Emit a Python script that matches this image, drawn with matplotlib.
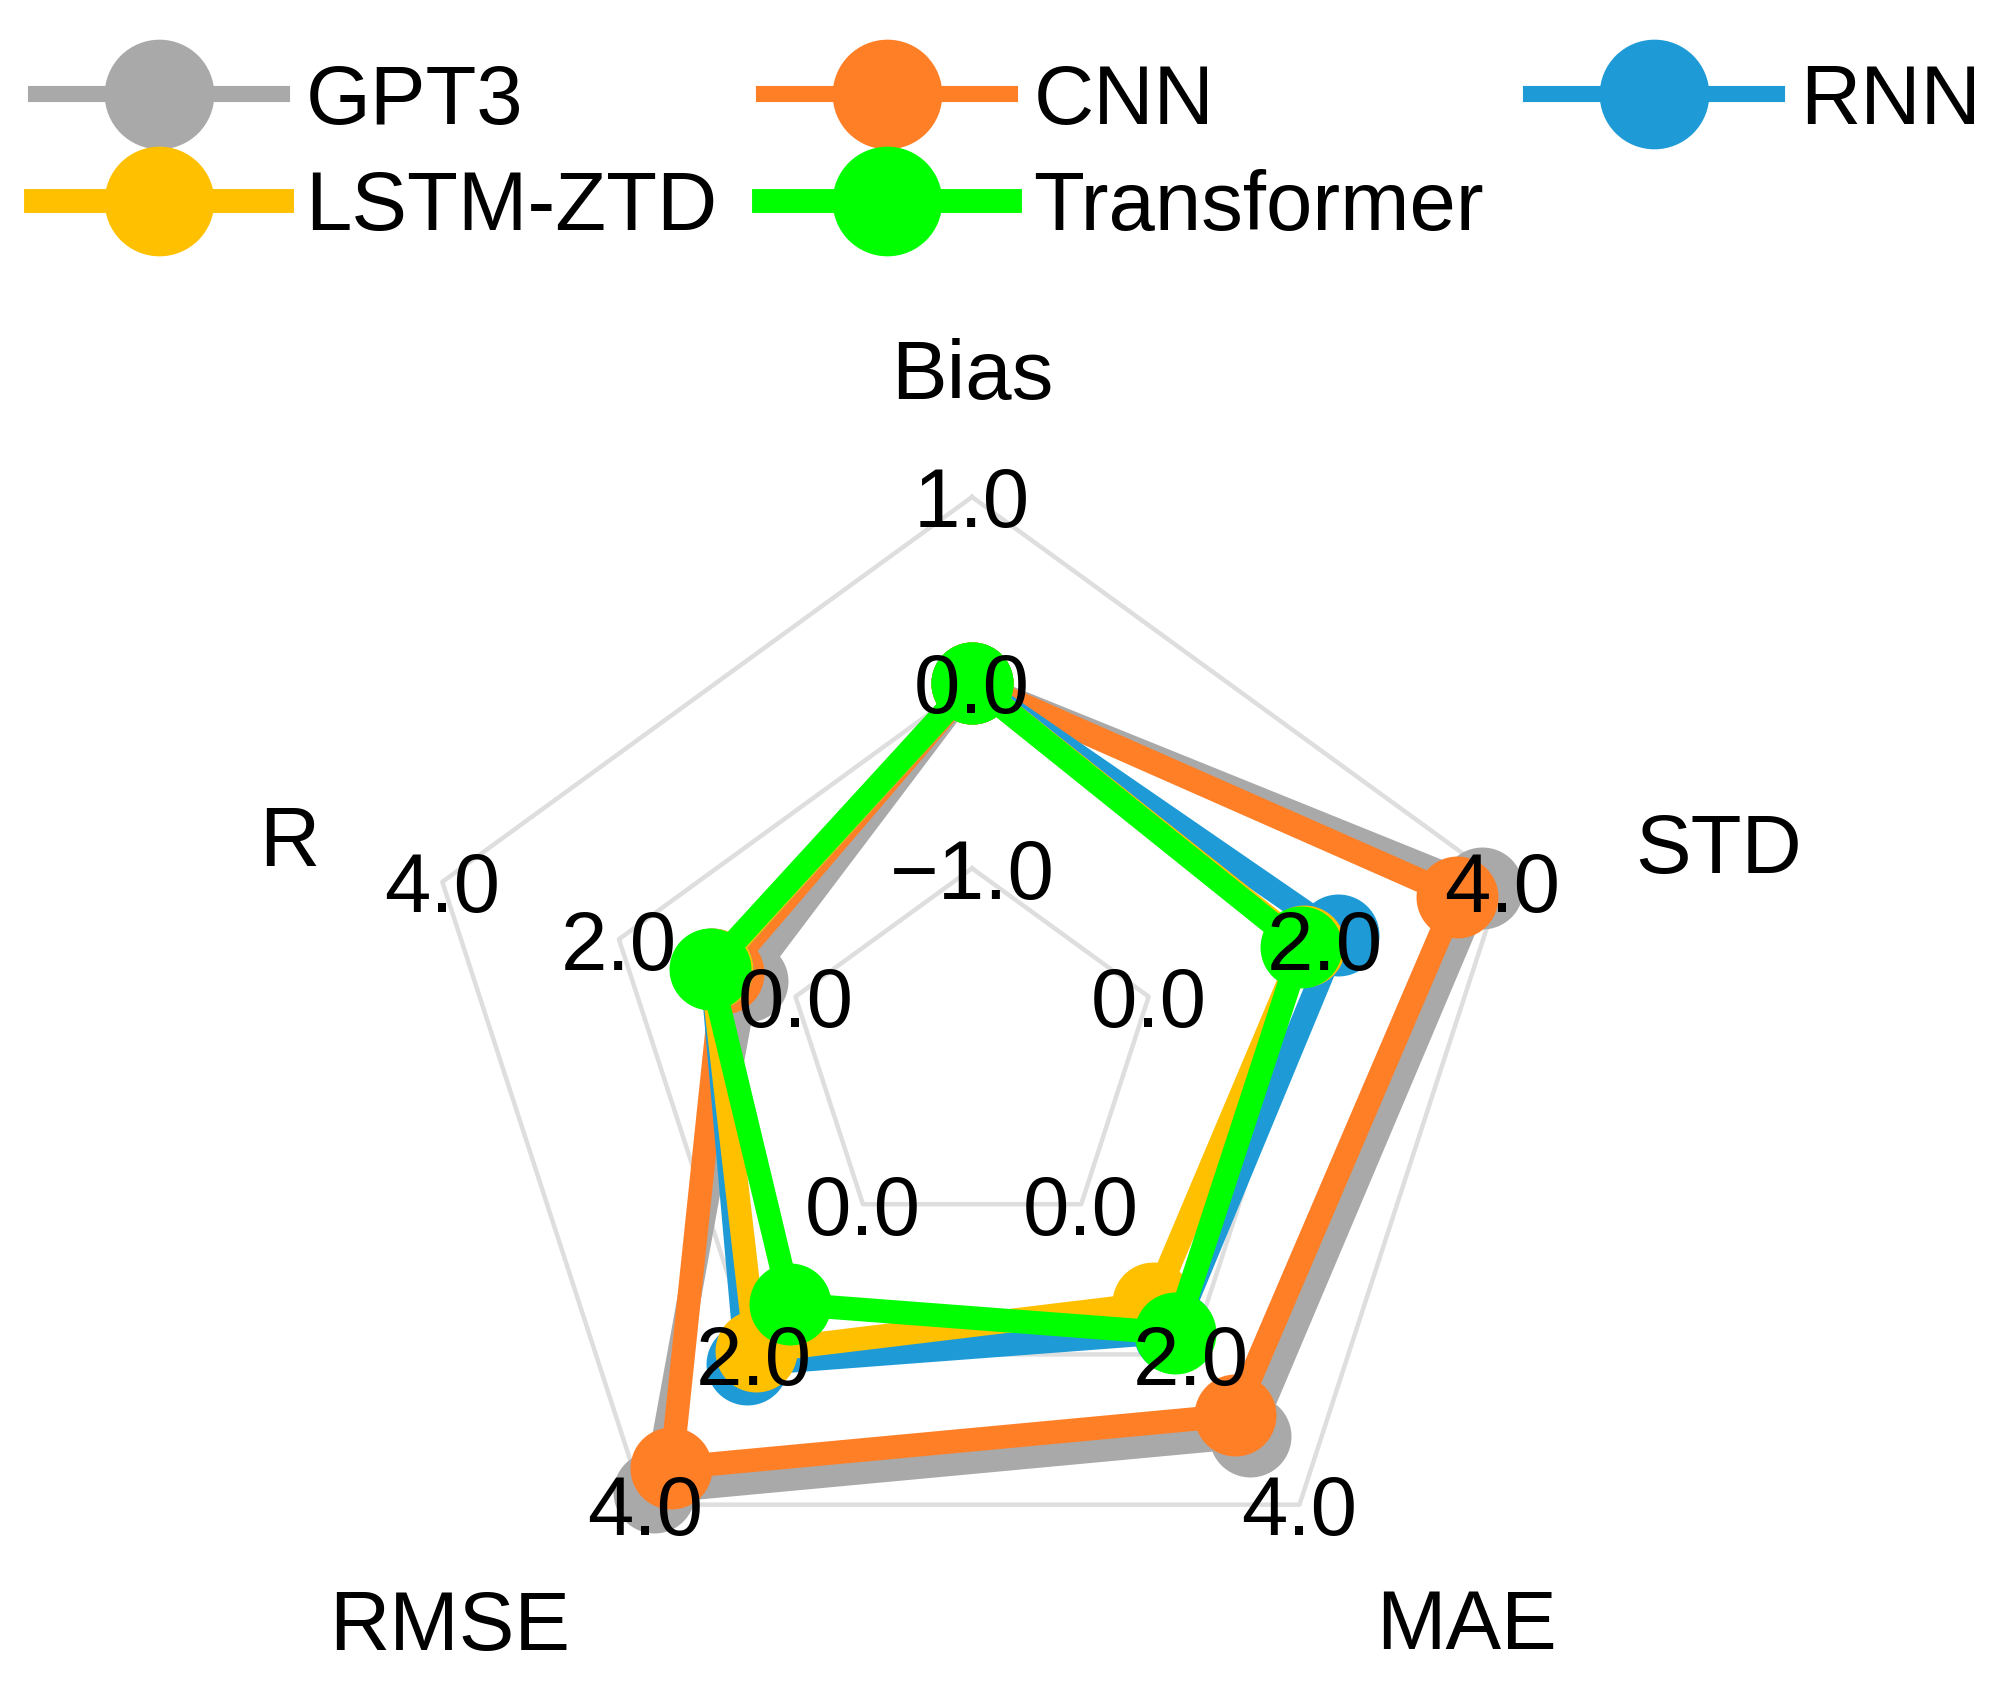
import numpy as np
import matplotlib
matplotlib.use("Agg")
import matplotlib.pyplot as plt

plt.rcParams['font.family'] = ['Liberation Sans', 'DejaVu Sans']

# axes of the radar, clockwise from the top
categories = ['Bias', 'STD', 'MAE', 'RMSE', 'R']
axis_lo = [-1.0, 0.0, 0.0, 0.0, 0.0]
axis_hi = [1.0, 4.0, 4.0, 4.0, 4.0]
tick_labels = [['\u22121.0', '0.0', '1.0'],
               ['0.0', '2.0', '4.0'],
               ['0.0', '2.0', '4.0'],
               ['0.0', '2.0', '4.0'],
               ['0.0', '2.0', '4.0']]

models = ['GPT3', 'CNN', 'RNN', 'LSTM-ZTD', 'Transformer']
colors = ['#a9a9a9', '#ff7f27', '#1e9bd7', '#ffc000', '#00ff00']

# values per model: Bias, STD, MAE, RMSE, R
gpt3 = [0.0, 3.77, 3.09, 3.83, 0.55]
cnn = [0.0, 3.49, 2.81, 3.51, 0.82]
rnn = [0.0, 2.15, 1.70, 2.13, 0.95]
lstm = [0.0, 1.76, 1.32, 1.96, 0.95]
transformer = [0.0, 1.73, 1.72, 1.33, 0.97]
values = [gpt3, cnn, rnn, lstm, transformer]

# where the axis names sit (theta deg clockwise from top, radius)
name_theta = [0.0, 74.8, 139.2, 222.3, 287.1]
name_r = [1.215, 1.388, 1.359, 1.394, 1.283]

levels = [1/3, 2/3, 1.0]
FS = 30


def scale(vals):
    out = []
    for v, lo, hi in zip(vals, axis_lo, axis_hi):
        out.append(1/3 + (v - lo) / (hi - lo) * 2/3)
    return out


n = len(categories)
angles = np.linspace(0, 2*np.pi, n, endpoint=False)
closed = np.append(angles, angles[0])

fig = plt.figure(figsize=(10.04, 8.455), dpi=200)
ax = fig.add_axes([0.2067, 0.0473, 0.5548, 0.6588], projection='polar')
ax.set_theta_offset(np.pi/2)
ax.set_theta_direction(-1)
ax.set_ylim(0, 1)
ax.set_axis_off()

# polygon grid
for lev in levels:
    ax.plot(closed, [lev]*(n+1), color='#dedede', lw=1.6, zorder=1, clip_on=False)

lines = []
for name, col, vals in zip(models, colors, values):
    r = scale(vals)
    r.append(r[0])
    ln, = ax.plot(closed, r, color=col, lw=8.5, marker='o', markersize=28.5,
                  label=name, zorder=3, clip_on=False)
    lines.append(ln)

# tick labels on every axis
for i in range(n):
    for lev, lab in zip(levels, tick_labels[i]):
        ax.text(angles[i], lev, lab, ha='center', va='center_baseline',
                fontsize=FS, zorder=10, clip_on=False)

for i in range(n):
    ax.text(np.deg2rad(name_theta[i]), name_r[i], categories[i], ha='center',
            va='center', fontsize=FS, clip_on=False)

order = [0, 3, 1, 4, 2]
leg = fig.legend([lines[i] for i in order], [models[i] for i in order], ncol=3,
                 loc='upper left', bbox_to_anchor=(0.018, 0.963), frameon=False,
                 fontsize=FS, markerscale=1.35, handlelength=2.95,
                 handletextpad=0.28, columnspacing=0.56, labelspacing=0.34,
                 borderpad=0, borderaxespad=0)
for lg, w in zip(leg.get_lines(), [5.8, 8.6, 5.8, 8.6, 5.8]):
    lg.set_linewidth(w)

fig.savefig('out.png', dpi=200)
